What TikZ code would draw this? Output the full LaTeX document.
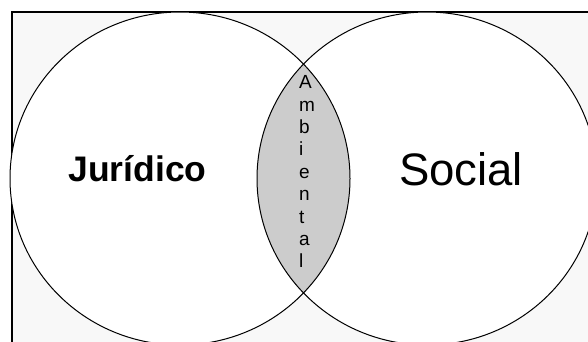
\documentclass[tikz,border=0pt]{standalone}
\usepackage{fontspec}
\setmainfont{Liberation Sans}
\definecolor{framebg}{HTML}{F8F8F8}
\definecolor{lensgray}{HTML}{CCCCCC}
\begin{document}
\begin{tikzpicture}[x=1pt,y=-1pt,
  outline/.style={draw=black,line width=1pt}]
\useasboundingbox (0,0) rectangle (588,341);
\clip (0,0) rectangle (588,341);
\fill[white] (0,0) rectangle (588,341);
\coordinate (cl) at (180,178.5);
\coordinate (cr) at (427,178.5);
% frame
\draw[fill=framebg,line width=1.2pt] (12,12) rectangle (620,380);
% circles
\fill[white] (cl) ellipse [x radius=170,y radius=166.5];
\fill[white] (cr) ellipse [x radius=170,y radius=166.5];
\begin{scope}
  \clip (cl) ellipse [x radius=170,y radius=166.5];
  \fill[lensgray] (cr) ellipse [x radius=170,y radius=166.5];
\end{scope}
\draw[outline] (cl) ellipse [x radius=170,y radius=166.5];
\draw[outline] (cr) ellipse [x radius=170,y radius=166.5];
% texts
\node[anchor=base,inner sep=0,font=\fontsize{35.5}{42}\selectfont\bfseries] (jur) at (137.5,181) {Jurídico};
\node[anchor=base,inner sep=0,font=\fontsize{45.5}{54}\selectfont] (soc) at (461,185) {Social};
\node[anchor=north west,inner sep=0,align=left,font=\fontsize{19}{22.4}\selectfont] (amb) at (299,75.5) {A\\m\\b\\i\\e\\n\\t\\a\\l};
\end{tikzpicture}
\end{document}
